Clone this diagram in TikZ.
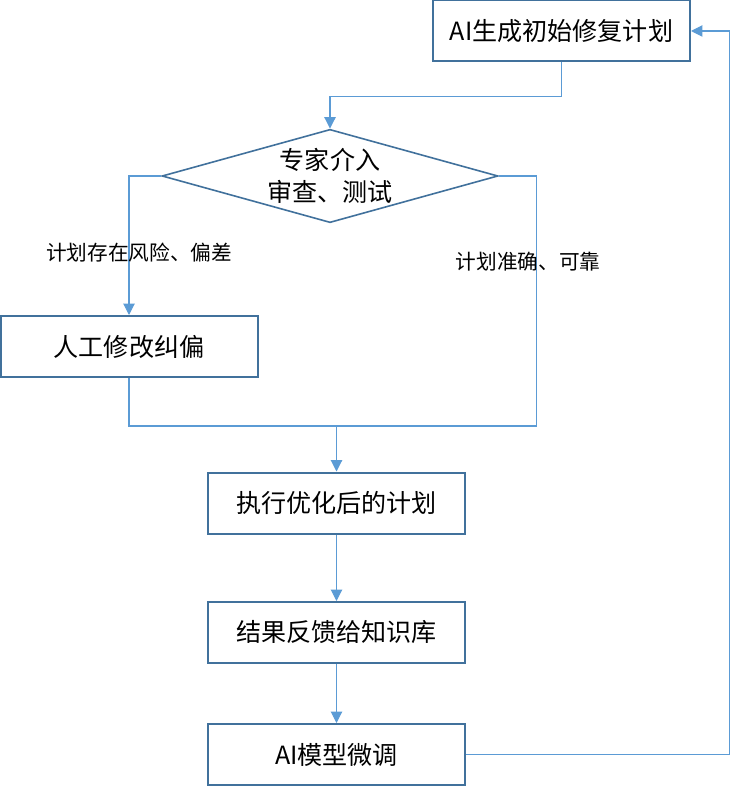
\documentclass[tikz,border=0pt]{standalone}
\usepackage{fontspec}
\setmainfont{Noto Sans CJK SC}
\usepackage{tikz}
\usetikzlibrary{
  arrows.meta,
  shapes.geometric,
  positioning,
  calc
}
\definecolor{fcEdge}{HTML}{41719C}
\definecolor{fcLink}{HTML}{5B9BD5}
\tikzset{
  flowbox/.style={
    draw=fcEdge, line width=1.5pt, fill=white, minimum width=192.75pt, minimum height=45.75pt,
    font=\fontsize{18.8}{22}\selectfont, align=center, inner sep=0pt
  },
  decision/.style={
    draw=fcEdge, line width=1.2pt, diamond, aspect=3.6, inner sep=0pt,
    minimum width=252pt, minimum height=70pt,
    font=\fontsize{18.8}{24}\selectfont, align=center
  },
  link/.style={-{Triangle[length=8.5pt, width=8.5pt]}, line width=0.8pt, fcLink},
  linkplain/.style={line width=0.8pt, fcLink},
  tag/.style={font=\fontsize{15.5}{18}\selectfont, inner sep=1pt}
}
\begin{document}
\begin{tikzpicture}[x=0.75pt, y=-0.75pt]
  \useasboundingbox (0,0) rectangle (730,787);
  \node[flowbox] (plan) at (561.5,31) {AI生成初始修复计划};
  \node[decision] (review) at (330,176) {专家介入\\审查、测试};
  \node[flowbox] (fix) at (129,346.5) {人工修改纠偏};
  \node[flowbox] (exec) at (336.5,503) {执行优化后的计划};
  \node[flowbox] (feedback) at (336.5,632.5) {结果反馈给知识库};
  \node[flowbox] (tune) at (336.5,754.5) {AI模型微调};
  \coordinate (join) at (336.5,426);
  \draw[link] (plan.south) -- ++(0,34) -| (review.north);
  \draw[link] (review.west) -| (fix.north);
  \draw[linkplain] (review.east) -- ++(38,0) |- (join);
  \draw[linkplain] (fix.south) |- (join);
  \draw[link] (join) -- (exec.north);
  \draw[link] (exec.south) -- (feedback.north);
  \draw[link] (feedback.south) -- (tune.north);
  \draw[link] (tune.east) -- ++(263.5,0) |- (plan.east);
  \node[tag] (risk) at (139,253) {计划存在风险、偏差};
  \node[tag] (sound) at (528,262) {计划准确、可靠};
\end{tikzpicture}
\end{document}
